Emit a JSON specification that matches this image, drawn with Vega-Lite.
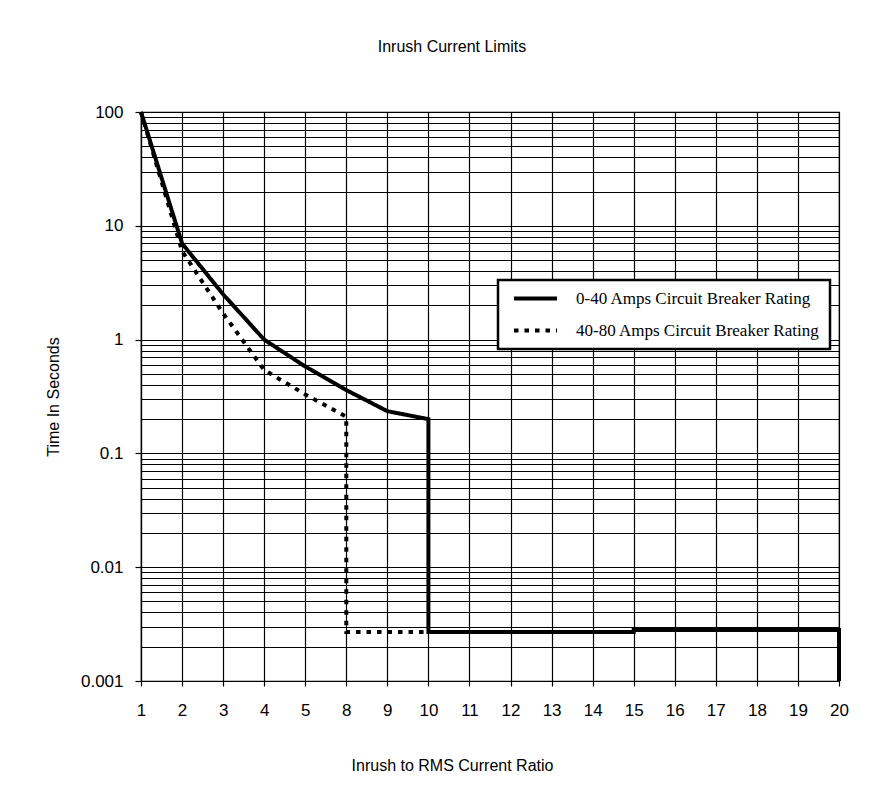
{
  "$schema": "https://vega.github.io/schema/vega-lite/v6.json",
  "autosize": {"type": "none"},
  "width": 698,
  "height": 569,
  "padding": {"left": 141, "top": 112, "right": 52, "bottom": 128},
  "background": "white",
  "title": {
    "text": "Inrush Current Limits",
    "font": "Liberation Sans",
    "fontSize": 16,
    "fontWeight": "normal",
    "color": "black",
    "anchor": "middle",
    "offset": 48,
    "dx": -38
  },
  "config": {
    "view": {"stroke": "black", "strokeWidth": 1.2},
    "legend": {"strokeWidth": 2.5},
    "axis": {
      "labelFont": "Liberation Sans",
      "labelFontSize": 17,
      "labelColor": "black",
      "titleFont": "Liberation Sans",
      "titleFontSize": 16,
      "titleFontWeight": "normal",
      "titleColor": "black",
      "domainColor": "black",
      "domainWidth": 1.2,
      "tickColor": "black",
      "tickWidth": 1.2,
      "gridColor": "black",
      "gridWidth": 1.2,
      "gridOpacity": 1
    }
  },
  "data": {
    "values": [
      {"series": "0-40 Amps Circuit Breaker Rating", "i": 1, "ratio": "1", "time": 100},
      {"series": "0-40 Amps Circuit Breaker Rating", "i": 2, "ratio": "2", "time": 7},
      {"series": "0-40 Amps Circuit Breaker Rating", "i": 3, "ratio": "3", "time": 2.5},
      {"series": "0-40 Amps Circuit Breaker Rating", "i": 4, "ratio": "4", "time": 1.0},
      {"series": "0-40 Amps Circuit Breaker Rating", "i": 5, "ratio": "5", "time": 0.58},
      {"series": "0-40 Amps Circuit Breaker Rating", "i": 6, "ratio": "8", "time": 0.36},
      {"series": "0-40 Amps Circuit Breaker Rating", "i": 7, "ratio": "9", "time": 0.235},
      {"series": "0-40 Amps Circuit Breaker Rating", "i": 8, "ratio": "10", "time": 0.2},
      {"series": "0-40 Amps Circuit Breaker Rating", "i": 9, "ratio": "10", "time": 0.0027},
      {"series": "0-40 Amps Circuit Breaker Rating", "i": 10, "ratio": "15", "time": 0.0027},
      {"series": "0-40 Amps Circuit Breaker Rating", "i": 11, "ratio": "15", "time": 0.0028},
      {"series": "0-40 Amps Circuit Breaker Rating", "i": 12, "ratio": "20", "time": 0.0028},
      {"series": "0-40 Amps Circuit Breaker Rating", "i": 13, "ratio": "20", "time": 0.001},
      {"series": "40-80 Amps Circuit Breaker Rating", "i": 1, "ratio": "1", "time": 100},
      {"series": "40-80 Amps Circuit Breaker Rating", "i": 2, "ratio": "2", "time": 6},
      {"series": "40-80 Amps Circuit Breaker Rating", "i": 3, "ratio": "3", "time": 1.7},
      {"series": "40-80 Amps Circuit Breaker Rating", "i": 4, "ratio": "4", "time": 0.54},
      {"series": "40-80 Amps Circuit Breaker Rating", "i": 5, "ratio": "5", "time": 0.33},
      {"series": "40-80 Amps Circuit Breaker Rating", "i": 6, "ratio": "8", "time": 0.21},
      {"series": "40-80 Amps Circuit Breaker Rating", "i": 7, "ratio": "8", "time": 0.0027},
      {"series": "40-80 Amps Circuit Breaker Rating", "i": 8, "ratio": "10", "time": 0.0027}
    ]
  },
  "mark": {"type": "line", "color": "black", "strokeWidth": 4, "clip": false},
  "encoding": {
    "x": {
      "field": "ratio",
      "type": "ordinal",
      "scale": {
        "type": "point",
        "padding": 0,
        "domain": ["1", "2", "3", "4", "5", "8", "9", "10", "11", "12", "13", "14", "15", "16", "17", "18", "19", "20"]
      },
      "axis": {
        "title": "Inrush to RMS Current Ratio",
        "labelAngle": 0,
        "tickSize": 5,
        "labelPadding": 16,
        "grid": true,
        "titleX": 311,
        "titleY": 76,
        "titleBaseline": "top",
        "titleAnchor": "middle"
      }
    },
    "y": {
      "field": "time",
      "type": "quantitative",
      "scale": {"type": "log", "domain": [0.001, 100]},
      "axis": {
        "title": "Time In Seconds",
        "values": [0.001, 0.002, 0.003, 0.004, 0.005, 0.006, 0.007, 0.008, 0.009,
                   0.01, 0.02, 0.03, 0.04, 0.05, 0.06, 0.07, 0.08, 0.09,
                   0.1, 0.2, 0.3, 0.4, 0.5, 0.6, 0.7, 0.8, 0.9,
                   1, 2, 3, 4, 5, 6, 7, 8, 9,
                   10, 20, 30, 40, 50, 60, 70, 80, 90, 100],
        "labelExpr": "abs(log(datum.value)/LN10 - round(log(datum.value)/LN10)) < 0.000001 ? format(datum.value, '~g') : ''",
        "labelOverlap": false,
        "labelPadding": 12,
        "tickSize": {"condition": {"test": "abs(log(datum.value)/LN10 - round(log(datum.value)/LN10)) < 0.000001", "value": 6}, "value": 0},
        "titleX": -88,
        "titleBaseline": "middle",
        "grid": true
      }
    },
    "strokeDash": {
      "field": "series",
      "type": "nominal",
      "scale": {
        "domain": ["0-40 Amps Circuit Breaker Rating", "40-80 Amps Circuit Breaker Rating"],
        "range": [[1, 0], [4.5, 6]]
      },
      "legend": {
        "title": null,
        "orient": "none",
        "legendX": 357,
        "legendY": 168,
        "symbolType": "stroke",
        "symbolSize": 1849,
        "symbolStrokeWidth": 4,
        "symbolStrokeColor": "black",
        "symbolOffset": 4,
        "clipHeight": 17,
        "labelFont": "Liberation Serif",
        "labelFontSize": 17,
        "labelColor": "black",
        "labelOffset": 17,
        "labelLimit": 400,
        "strokeColor": "black",
        "fillColor": "white",
        "padding": 10,
        "rowPadding": 14
      }
    },
    "order": {"field": "i", "type": "quantitative"}
  }
}
